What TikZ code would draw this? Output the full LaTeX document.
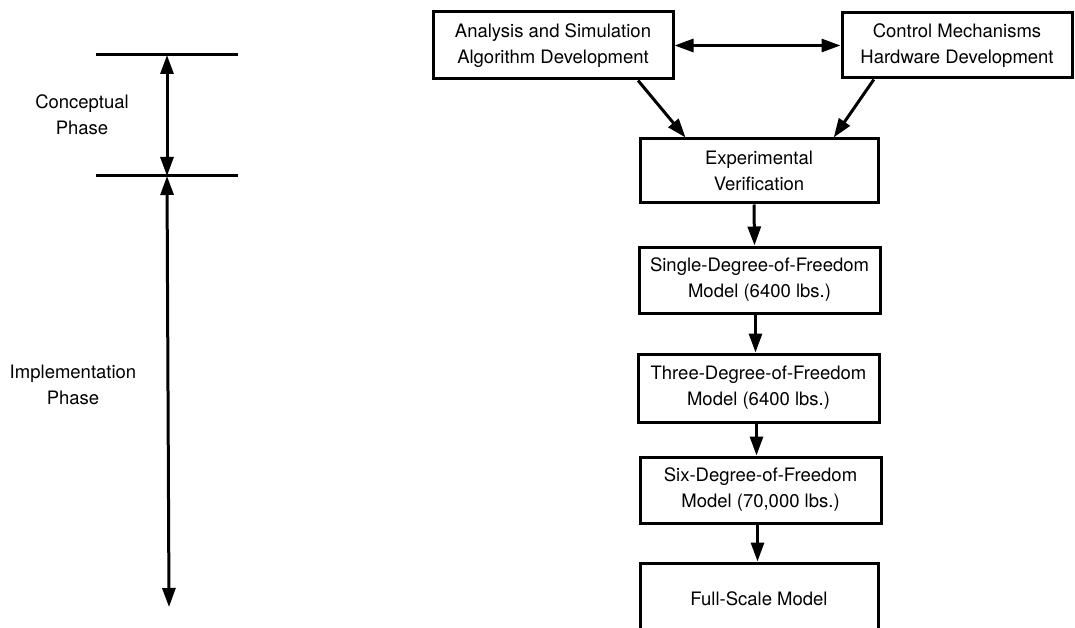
\documentclass[tikz,border=0pt]{standalone}
\usepackage{fontspec}
\setmainfont{TeX Gyre Heros}
\usetikzlibrary{arrows.meta,calc}
\begin{document}
\begin{tikzpicture}[x=1pt,y=-1pt,
  every node/.style={font=\fontsize{18.5}{26}\selectfont},
  box/.style={draw,line width=3pt,align=center,inner sep=0pt},
  conn/.style={line width=3pt,-{Triangle[length=19pt,width=13pt]}},
  dconn/.style={line width=3pt,{Triangle[length=19pt,width=13pt]}-{Triangle[length=19pt,width=13pt]}},
  rule/.style={line width=3pt}]
\useasboundingbox (0,0) rectangle (1075,628);
\clip (0,0) rectangle (1075,628);
% left timeline
\coordinate (l1) at (96,55);
\coordinate (r1) at (238,55);
\coordinate (l2) at (96,176);
\coordinate (r2) at (238,176);
\coordinate (p1) at (167,55);
\coordinate (p2) at (167,176);
\coordinate (p3) at (169,607);
\draw[rule] (l1) -- (r1);
\draw[rule] (l2) -- (r2);
\draw[dconn] (p1) -- (p2);
\draw[dconn] (p2) -- (p3);
\node[align=center] (cp) at (82,115) {Conceptual\\Phase};
\node[align=center] (ip) at (73,385) {Implementation\\Phase};
% flow
\node[box,minimum width=240pt,minimum height=67pt] (A) at (553,45.5) {Analysis and Simulation\\Algorithm Development};
\node[box,minimum width=230pt,minimum height=65pt] (B) at (957,45.5) {Control Mechanisms\\Hardware Development};
\node[box,minimum width=238pt,minimum height=64pt] (C) at (759,171) {Experimental\\Verification};
\node[box,minimum width=241pt,minimum height=66pt] (D) at (759.5,280) {Single-Degree-of-Freedom\\Model (6400 lbs.)};
\node[box,minimum width=241pt,minimum height=68pt] (E) at (758.5,388) {Three-Degree-of-Freedom\\Model (6400 lbs.)};
\node[box,minimum width=241pt,minimum height=66pt] (F) at (760.5,490) {Six-Degree-of-Freedom\\Model (70,000 lbs.)};
\node[box,minimum width=238pt,minimum height=72pt] (G) at (759,599) {Full-Scale Model};
\draw[dconn] (A.east) -- (B.west);
\draw[conn] ($(A.south west)!0.85!(A.south east)$) -- ($(C.north west)!0.195!(C.north east)$);
\draw[conn] ($(B.south west)!0.143!(B.south east)$) -- ($(C.north west)!0.81!(C.north east)$);
\draw[conn] ([xshift=-5pt]C.south) -- ([xshift=-5pt]D.north);
\draw[conn] ([xshift=-4pt]D.south) -- ([xshift=-4pt]D.south |- E.north);
\draw[conn] ([xshift=-2pt]E.south) -- ([xshift=-2pt]E.south |- F.north);
\draw[conn] ([xshift=-3pt]F.south) -- ([xshift=-3pt]F.south |- G.north);
\end{tikzpicture}
\end{document}
